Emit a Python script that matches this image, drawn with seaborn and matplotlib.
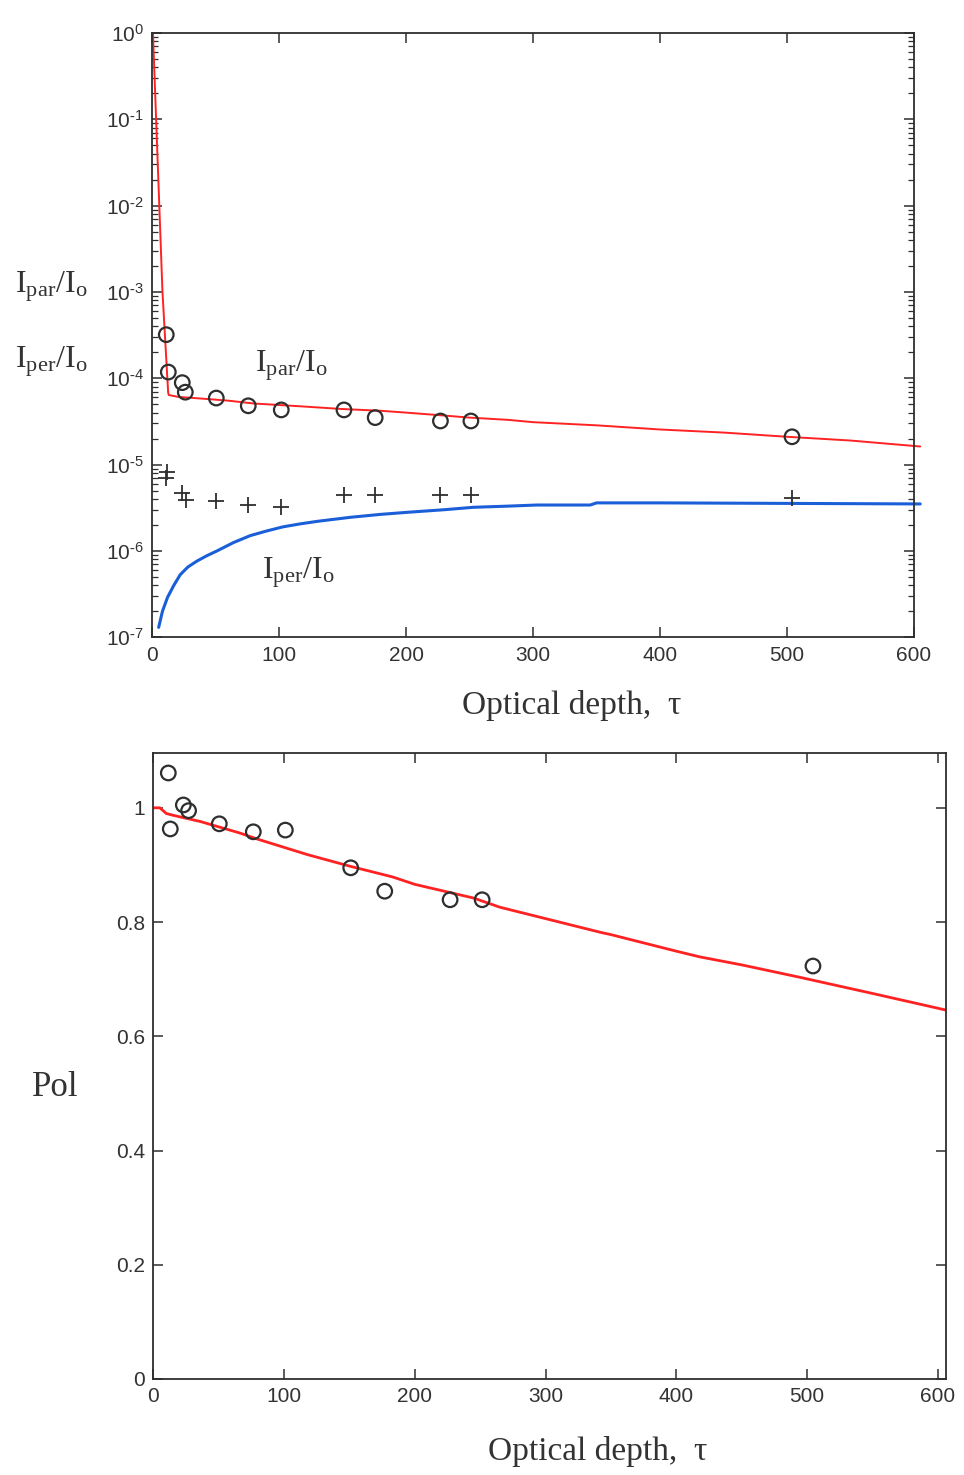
import numpy as np
import pandas as pd
import matplotlib
matplotlib.use("Agg")
import matplotlib.pyplot as plt
from matplotlib.ticker import FixedLocator, FuncFormatter, LogLocator, NullFormatter
import seaborn as sns

# Measured points: parallel (circles) and perpendicular (plus) intensities
tau_meas = [11, 12.6, 23.6, 26, 50.4, 75.6, 101.6, 151, 175.6, 227, 251, 504]
ipar_meas = [3.2e-4, 1.18e-4, 8.9e-5, 6.9e-5, 5.9e-5, 4.8e-5, 4.3e-5, 4.3e-5, 3.5e-5, 3.2e-5, 3.2e-5, 2.1e-5]
tau_per_meas = [11.6, 10.5, 23.6, 26.8, 50.4, 75.6, 101.6, 151, 175.6, 227, 251, 504]
iper_meas = [8.1e-6, 6.9e-6, 4.7e-6, 3.9e-6, 3.8e-6, 3.4e-6, 3.2e-6, 4.4e-6, 4.4e-6, 4.4e-6, 4.4e-6, 4.1e-6]

# Simulated parallel intensity
tau_par_sim = [0.5, 8, 12.5, 13, 20, 26, 40, 60, 80, 100, 120, 150, 180, 200, 230, 250,
               280, 300, 350, 400, 450, 500, 550, 605]
ipar_sim = [1.0, 1.0e-3, 6.8e-5, 6.4e-5, 6.1e-5, 6.0e-5, 5.8e-5, 5.5e-5, 5.1e-5, 4.9e-5,
            4.7e-5, 4.4e-5, 4.2e-5, 4.0e-5, 3.7e-5, 3.5e-5, 3.3e-5, 3.1e-5, 2.85e-5,
            2.55e-5, 2.35e-5, 2.1e-5, 1.9e-5, 1.62e-5]

# Simulated perpendicular intensity
tau_per_sim = [5, 8, 12, 17, 22, 28, 35, 43, 51, 64, 77, 90, 103, 116, 130, 156, 180,
               201, 230, 253, 280, 303, 345, 350, 400, 500, 605]
iper_sim = [1.3e-7, 2.0e-7, 2.9e-7, 4.0e-7, 5.3e-7, 6.5e-7, 7.6e-7, 8.8e-7, 1.0e-6,
            1.25e-6, 1.5e-6, 1.7e-6, 1.9e-6, 2.05e-6, 2.2e-6, 2.45e-6, 2.65e-6, 2.8e-6,
            3.0e-6, 3.2e-6, 3.3e-6, 3.4e-6, 3.4e-6, 3.6e-6, 3.6e-6, 3.55e-6, 3.5e-6]

# Degree of polarization: measured and simulated
tau_pol_meas = [11.5, 13, 23, 27, 50.5, 76.5, 101, 151, 177, 227, 251.5, 504.5]
pol_meas = [1.061, 0.963, 1.005, 0.995, 0.972, 0.958, 0.961, 0.895, 0.854, 0.839, 0.839, 0.723]
tau_pol_sim = [0, 5, 10, 15, 36, 66, 80, 118, 150, 183, 200, 245, 265, 300, 342, 350,
               400, 418, 450, 495, 550, 606]
pol_sim = [1.0, 1.0, 0.99, 0.987, 0.976, 0.956, 0.945, 0.918, 0.898, 0.879, 0.866, 0.842,
           0.826, 0.806, 0.782, 0.778, 0.749, 0.739, 0.725, 0.703, 0.675, 0.646]

x_ticks = [0, 100, 200, 300, 400, 500, 600]
pol_ticks = [0, 0.2, 0.4, 0.6, 0.8, 1.0]

sns.set_style("ticks")
plt.rcParams["font.family"] = ["Liberation Sans", "DejaVu Sans"]
plt.rcParams["mathtext.fontset"] = "custom"
plt.rcParams["mathtext.rm"] = "Liberation Serif"
plt.rcParams["mathtext.it"] = "Liberation Serif:italic"

RED = "#ff2222"
BLUE = "#1a5fd8"
INK = "#2e2e2e"
LABEL = "#333333"
SERIF = ["Liberation Serif", "DejaVu Serif"]

fig = plt.figure(figsize=(9.64, 14.75), dpi=100)
ax1 = fig.add_axes([0.158, 0.568, 0.790, 0.4096])
ax2 = fig.add_axes([0.159, 0.0651, 0.822, 0.4244])


def style_axes(ax):
    for s in ax.spines.values():
        s.set_color(INK)
        s.set_linewidth(1.3)
    ax.tick_params(which="both", direction="in", top=True, right=True,
                   colors=INK, labelcolor=LABEL)
    ax.tick_params(which="major", length=7, width=1.1, labelsize=15, pad=6)
    ax.tick_params(which="minor", length=4, width=0.9)


def decade_label(v, pos):
    e = int(round(np.log10(v)))
    sign = r"\text{-}" if e < 0 else ""
    return r"$\mathdefault{10^{%s%d}}$" % (sign, abs(e))


# ---- upper panel: intensities on log scale ----
df_par = pd.DataFrame({"tau": tau_par_sim, "I": ipar_sim})
df_per = pd.DataFrame({"tau": tau_per_sim, "I": iper_sim})
sns.lineplot(data=df_par, x="tau", y="I", ax=ax1, color=RED, linewidth=1.4,
             estimator=None, sort=False)
sns.lineplot(data=df_per, x="tau", y="I", ax=ax1, color=BLUE, linewidth=2.2,
             estimator=None, sort=False)
sns.scatterplot(x=tau_meas, y=ipar_meas, ax=ax1, marker="o", s=110,
                facecolor="none", edgecolor=INK, linewidth=1.6, zorder=4)
sns.scatterplot(x=tau_per_meas, y=iper_meas, ax=ax1, marker="+", s=120,
                color=INK, linewidth=1.3, zorder=4)
for ln in ax1.lines:
    ln.set_clip_on(False)

ax1.set_yscale("log")
ax1.set_xlim(0, 600)
ax1.set_ylim(1e-7, 1)
ax1.xaxis.set_major_locator(FixedLocator(x_ticks))
ax1.yaxis.set_major_locator(LogLocator(base=10, numticks=10))
ax1.yaxis.set_major_formatter(FuncFormatter(decade_label))
ax1.yaxis.set_minor_locator(LogLocator(base=10, subs=np.arange(2, 10), numticks=20))
ax1.yaxis.set_minor_formatter(NullFormatter())
ax1.set_xlabel("")
ax1.set_ylabel("")
style_axes(ax1)
ax1.tick_params(axis="x", which="minor", top=False, bottom=False)

ax1.text(81, 1.4e-4, r"$\mathrm{I_{par}/I_o}$", fontsize=23, ha="left", va="center",
         color=LABEL)
ax1.text(86.5, 5.6e-7, r"$\mathrm{I_{per}/I_o}$", fontsize=23, ha="left", va="center",
         color=LABEL)

fig.text(0.0156, 0.8054, r"$\mathrm{I_{par}/I_o}$", fontsize=23, ha="left", va="center",
         color=LABEL)
fig.text(0.0156, 0.7546, r"$\mathrm{I_{per}/I_o}$", fontsize=23, ha="left", va="center",
         color=LABEL)
fig.text(0.593, 0.522, "Optical depth,  τ", fontsize=24, family=SERIF,
         ha="center", va="center", color=LABEL)

# ---- lower panel: polarization ----
df_pol = pd.DataFrame({"tau": tau_pol_sim, "P": pol_sim})
sns.lineplot(data=df_pol, x="tau", y="P", ax=ax2, color=RED, linewidth=2.0,
             estimator=None, sort=False)
sns.scatterplot(x=tau_pol_meas, y=pol_meas, ax=ax2, marker="o", s=110,
                facecolor="none", edgecolor=INK, linewidth=1.6, zorder=4)
ax2.set_xlim(0, 606)
ax2.set_ylim(0, 1.096)
ax2.xaxis.set_major_locator(FixedLocator(x_ticks))
ax2.yaxis.set_major_locator(FixedLocator(pol_ticks))
ax2.yaxis.set_major_formatter(FuncFormatter(lambda v, p: f"{v:g}"))
ax2.set_xlabel("")
ax2.set_ylabel("")
style_axes(ax2)

fig.text(0.033, 0.2624, "Pol", fontsize=25, family=SERIF, ha="left", va="center",
         color=LABEL)
fig.text(0.620, 0.0156, "Optical depth,  τ", fontsize=24, family=SERIF,
         ha="center", va="center", color=LABEL)

fig.savefig("out.png", dpi=100)
